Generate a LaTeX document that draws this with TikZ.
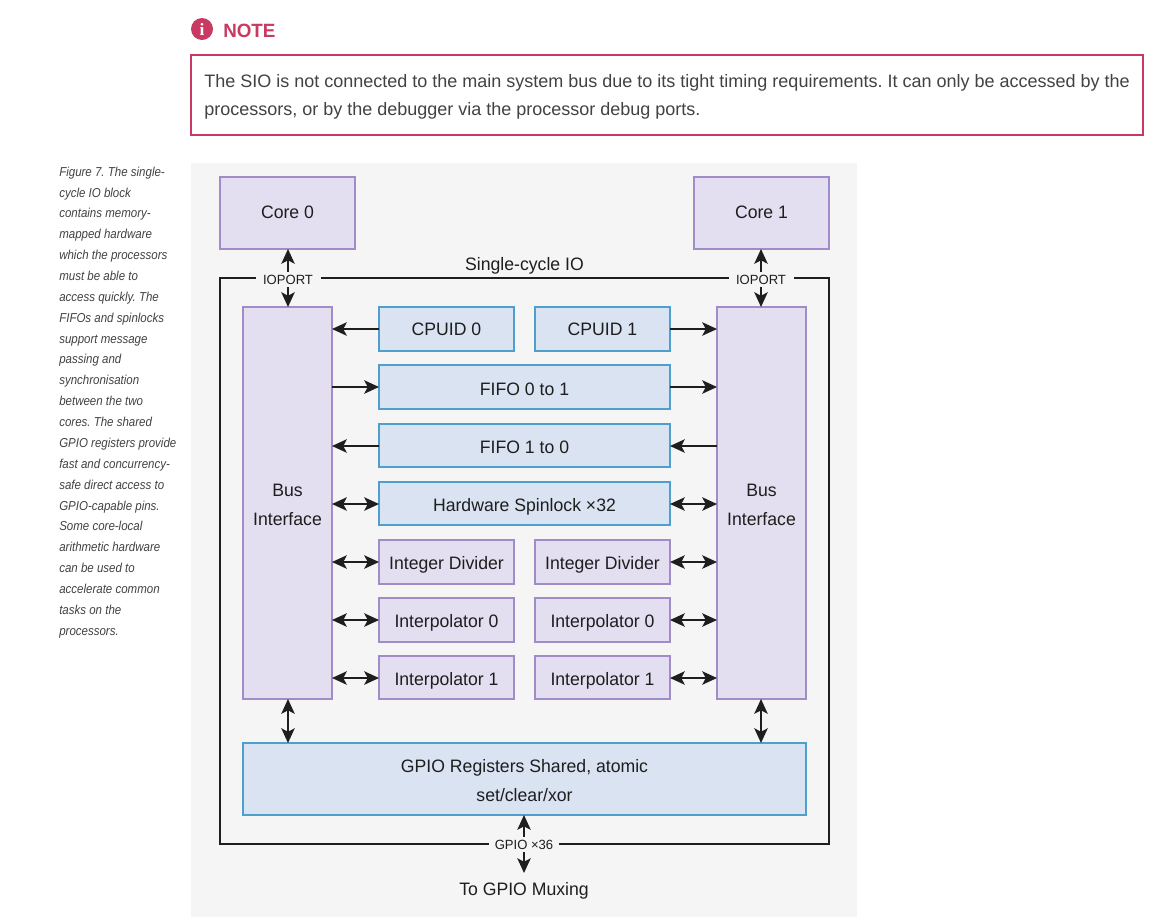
\documentclass[tikz,border=0pt]{standalone}
\usepackage{fontspec}
\setmainfont[FakeStretch=0.98]{Liberation Sans}
\newfontfamily\notefont{Liberation Sans}
\newfontfamily\capfont[FakeStretch=0.89]{Liberation Sans}
\newfontfamily\iconfont{Liberation Serif}
\usetikzlibrary{arrows.meta}
\frenchspacing
\definecolor{notecol}{HTML}{C83A62}
\definecolor{bodytxt}{HTML}{424242}
\definecolor{panelbg}{HTML}{F5F5F5}
\definecolor{purplefill}{HTML}{E3DFF0}
\definecolor{purpleline}{HTML}{A28CC8}
\definecolor{bluefill}{HTML}{DAE3F2}
\definecolor{blueline}{HTML}{4E9FCB}
\definecolor{inkdark}{HTML}{1E1E1E}
\tikzset{
  wh/.style 2 args={minimum width=#1*0.75pt,minimum height=#2*0.75pt},
  base/.style={text height=2*#1*0.75pt,text depth=0pt},
  boxbase/.style={inner sep=0pt,outer sep=0pt,line width=1.4pt,align=center,text=inkdark,
    font=\fontsize{13.5}{21.75}\selectfont},
  purplebox/.style={boxbase,draw=purpleline,fill=purplefill},
  bluebox/.style={boxbase,draw=blueline,fill=bluefill},
  conn/.style={draw=inkdark,line width=1.35pt},
  oneway/.style={conn,-{Stealth[length=11pt,width=10pt,inset=2.5pt]}},
  twoway/.style={conn,{Stealth[length=11pt,width=10pt,inset=2.5pt]}-{Stealth[length=11pt,width=10pt,inset=2.5pt]}},
  nr/.style={xshift=0.375pt},
  nl/.style={xshift=-0.375pt},
  nd/.style={yshift=-0.375pt},
  portlabel/.style={fill=panelbg,inner xsep=0pt,inner ysep=0pt,text=inkdark,
    font=\fontsize{10}{12}\selectfont,minimum height=15*0.75pt},
  plainlabel/.style={inner sep=0pt,outer sep=0pt,text=inkdark,font=\fontsize{13.5}{16}\selectfont},
}
\begin{document}
\begin{tikzpicture}[x=0.75pt,y=-0.75pt]
\useasboundingbox (0,0) rectangle (1169,922);
\fill[white] (0,0) rectangle (1169,922);
% note
\node[circle,fill=notecol,minimum size=22*0.75pt,inner sep=0pt,text=white,font=\iconfont\bfseries\fontsize{13}{13}\selectfont] (icon) at (202,29) {i};
\node[anchor=west,inner sep=0pt,text=notecol,font=\fontsize{14.4}{18}\bfseries\selectfont] (notehead) at (223,31) {NOTE};
\node[draw=notecol,line width=1.5pt,fill=white,inner sep=0pt,outer sep=0pt,minimum width=952*0.75pt,minimum height=80*0.75pt,
  text height=30.8pt,text depth=0pt,align=left,text=bodytxt,font=\notefont\fontsize{13.5}{21}\selectfont] (notebox) at (667,95)
  {The SIO is not connected to the main system bus due to its tight timing requirements. It can only be accessed by the\\
   processors, or by the debugger via the processor debug ports.};
% caption
\node[anchor=north west,inner sep=0pt,align=left,text=bodytxt,font=\capfont\itshape\fontsize{9.7}{15.65}\selectfont] (caption) at (59,166.5)
  {Figure 7. The single-\\cycle IO block\\contains memory-\\mapped hardware\\which the processors\\must be able to\\access quickly. The\\FIFOs and spinlocks\\support message\\passing and\\synchronisation\\between the two\\cores. The shared\\GPIO registers provide\\fast and concurrency-\\safe direct access to\\GPIO-capable pins.\\Some core-local\\arithmetic hardware\\can be used to\\accelerate common\\tasks on the\\processors.};
% panel
\node[fill=panelbg,inner sep=0pt,outer sep=0pt,wh={666}{754}] (panel) at (524,540) {};
\node[draw=inkdark,line width=1.3pt,inner sep=0pt,outer sep=0pt,wh={609}{566}] (frame) at (524.5,561) {};
\node[plainlabel,base=5] (sctitle) at (524.5,265) {Single-cycle IO};
% boxes
\node[purplebox,wh={135}{72},base=5.5] (core0) at (287.5,213) {Core 0};
\node[purplebox,wh={135}{72},base=5.5] (core1) at (761.5,213) {Core 1};
\node[purplebox,wh={89}{392},text height=33pt,text depth=0pt] (busl) at (287.5,503) {Bus\\Interface};
\node[purplebox,wh={89}{392},text height=33pt,text depth=0pt] (busr) at (761.5,503) {Bus\\Interface};
\node[bluebox,wh={135}{44},base=6.5] (cpuid0) at (446.5,329) {CPUID 0};
\node[bluebox,wh={135}{44},base=6.5] (cpuid1) at (602.5,329) {CPUID 1};
\node[bluebox,wh={291}{44},base=8.5] (fifo01) at (524.5,387) {FIFO 0 to 1};
\node[bluebox,wh={291}{43},base=8] (fifo10) at (524.5,445.5) {FIFO 1 to 0};
\node[bluebox,wh={291}{43},base=8] (spin) at (524.5,503.5) {Hardware Spinlock ×32};
\node[purplebox,wh={135}{44},base=7.5] (divl) at (446.5,562) {Integer Divider};
\node[purplebox,wh={135}{44},base=7.5] (divr) at (602.5,562) {Integer Divider};
\node[purplebox,wh={135}{44},base=7.5] (ipal) at (446.5,620) {Interpolator 0};
\node[purplebox,wh={135}{44},base=7.5] (ipar) at (602.5,620) {Interpolator 0};
\node[purplebox,wh={135}{43},base=8] (ipbl) at (446.5,677.5) {Interpolator 1};
\node[purplebox,wh={135}{43},base=8] (ipbr) at (602.5,677.5) {Interpolator 1};
\node[bluebox,wh={563}{72},text height=33pt,text depth=0pt] (gpio) at (524.5,779) {GPIO Registers Shared, atomic\\set/clear/xor};
\node[plainlabel,minimum height=30*0.75pt,base=7] (tomux) at (524,888) {To GPIO Muxing};
% connectors
\draw[twoway] ([nr]core0.south) -- ([nr]busl.north);
\draw[twoway] ([nl]core1.south) -- ([nl]busr.north);
\draw[oneway] (cpuid0.west) -- (cpuid0.west -| busl.east);
\draw[oneway] (cpuid1.east) -- (cpuid1.east -| busr.west);
\draw[oneway] (fifo01.west -| busl.east) -- (fifo01.west);
\draw[oneway] (fifo01.east) -- (fifo01.east -| busr.west);
\draw[oneway] ([nd]fifo10.east -| busr.west) -- ([nd]fifo10.east);
\draw[oneway] ([nd]fifo10.west) -- ([nd]fifo10.west -| busl.east);
\draw[twoway] ([nd]spin.west) -- ([nd]spin.west -| busl.east);
\draw[twoway] ([nd]spin.east) -- ([nd]spin.east -| busr.west);
\draw[twoway] (divl.west) -- (divl.west -| busl.east);
\draw[twoway] (divr.east) -- (divr.east -| busr.west);
\draw[twoway] (ipal.west) -- (ipal.west -| busl.east);
\draw[twoway] (ipar.east) -- (ipar.east -| busr.west);
\draw[twoway] ([nd]ipbl.west) -- ([nd]ipbl.west -| busl.east);
\draw[twoway] ([nd]ipbr.east) -- ([nd]ipbr.east -| busr.west);
\draw[twoway] ([nr]busl.south) -- ([nr]busl.south |- gpio.north);
\draw[twoway] ([nl]busr.south) -- ([nl]busr.south |- gpio.north);
\draw[twoway] (tomux.north |- gpio.south) -- (tomux.north);
% port labels
\node[portlabel,minimum width=65*0.75pt,base=5.3] (portl) at (288,279) {IOPORT};
\node[portlabel,minimum width=65*0.75pt,base=5.3] (portr) at (761,279) {IOPORT};
\node[portlabel,minimum width=70*0.75pt,base=5] (portg) at (524,844) {GPIO ×36};
\end{tikzpicture}
\end{document}
